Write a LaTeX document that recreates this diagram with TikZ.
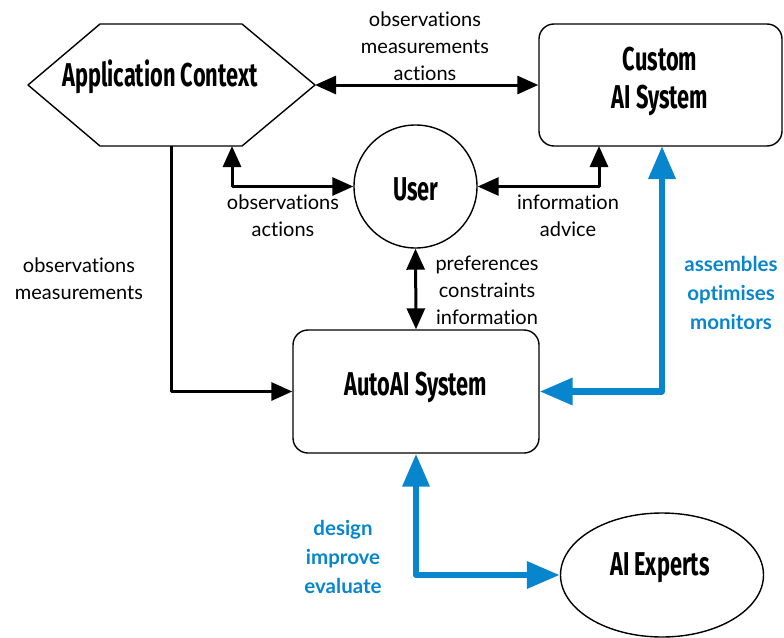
\documentclass[tikz,border=0pt]{standalone}
\usepackage{fontspec}
\setmainfont[Ligatures={NoCommon}]{Lato}
\newfontfamily\titlefont[FakeStretch=0.66]{Fira Sans}
\usetikzlibrary{arrows.meta,shapes.geometric}
\definecolor{aiblue}{RGB}{8,134,205}
\begin{document}
\begin{tikzpicture}[x=1pt,y=-1pt,line join=round,
  box/.style={draw,line width=1.4pt,rounded corners=15pt,align=center},
  title/.style={font=\titlefont\bfseries\fontsize{33}{38}\selectfont,align=center},
  lbl/.style={font=\fontsize{20}{27}\selectfont,align=center},
  blbl/.style={font=\bfseries\fontsize{20.5}{29}\selectfont,align=center,text=aiblue},
  link/.style={line width=3pt,>={Triangle[length=21pt,width=18pt]}},
  blink/.style={line width=6.5pt,aiblue,>={Triangle[length=33pt,width=26pt]}}]
\useasboundingbox (0,0) rectangle (784,637);
% hexagon
\coordinate (hexW) at (28,85);
\coordinate (hexE) at (315,85);
\draw[line width=1.4pt] (hexW) -- (100,24) -- (242,24) -- (hexE) -- (242,146) -- (100,146) -- cycle;
\node[title] (app) at (160,77) {Application Context};
\coordinate (hexB1) at (232,146);
\coordinate (hexB2) at (171,146);
% boxes
\node[box,minimum width=243pt,minimum height=122pt] (custom) at (660.5,85) {};
\node[title] (customtxt) at (660,81) {Custom\\AI System};
\node[box,minimum width=246pt,minimum height=123pt] (auto) at (416,391.5) {};
\node[title] (autotxt) at (416,387) {AutoAI System};
\node[draw,line width=1.4pt,circle,minimum size=123pt] (user) at (415.5,186.5) {};
\node[title] (usertxt) at (416,189) {User};
\node[draw,line width=1.4pt,ellipse,minimum width=203pt,minimum height=124pt] (experts) at (662,575) {};
\node[title] (expertstxt) at (660,568) {AI Experts};
\coordinate (cusB1) at (599,146);
\coordinate (cusB2) at (662,146);
% black links
\draw[link,<->] (hexE) -- (custom.west);
\draw[link,<->] (hexB1) |- (user.west);
\draw[link,<->] (cusB1) |- (user.east);
\draw[link,<->] (user.south) -- (auto.north);
\draw[link,->] (hexB2) |- (auto.west);
% blue links
\draw[blink,<->] (cusB2) |- (auto.east);
\draw[blink,<->] (auto.south) |- (experts.west);
% labels
\node[lbl] (lbltop) at (425,46) {observations\\measurements\\actions};
\node[lbl] (lbluserl) at (283,215.5) {observations\\actions};
\node[lbl] (lbluserr) at (568,215.5) {information\\advice};
\node[lbl] (lblpref) at (487,290) {preferences\\constraints\\information};
\node[lbl] (lblleft) at (79,278.5) {observations\\measurements};
\node[blbl] (lblasm) at (731,293) {assembles\\optimises\\monitors};
\node[blbl] (lbldes) at (343,557) {design\\improve\\evaluate};
\end{tikzpicture}
\end{document}
